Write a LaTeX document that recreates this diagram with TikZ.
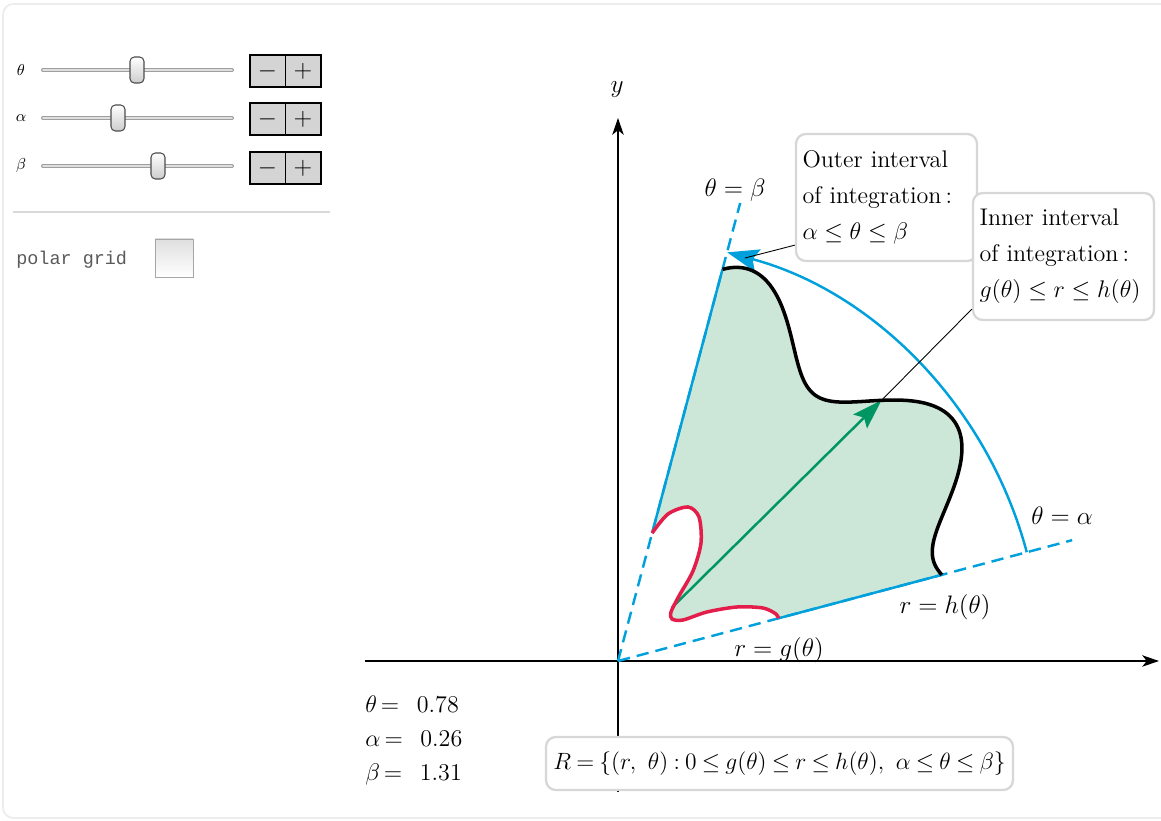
\RequirePackage{fix-cm}
\documentclass[tikz,border=0pt]{standalone}
\usepackage{amsmath}
\usepackage{fontspec}
\newfontfamily\panelmono{Liberation Mono}
\usepackage{tikz}
\usetikzlibrary{positioning}
\usetikzlibrary{arrows.meta}

\definecolor{raycol}{RGB}{0,160,220}
\definecolor{regiongreen}{RGB}{204,230,216}
\definecolor{radialcol}{RGB}{0,150,100}
\definecolor{gcol}{RGB}{228,30,75}
\definecolor{boxgray}{RGB}{215,215,215}
\definecolor{btngray}{RGB}{212,212,212}
\definecolor{framegray}{RGB}{236,236,236}

\newcommand\plotfont{\fontsize{13.7}{20.4}\selectfont}
\newcommand\mathlblfont{\fontsize{14.4}{17}\selectfont}
\newcommand\formulafont{\fontsize{13.4}{16}\selectfont\thickmuskip=4mu\relax}
% outer radius h(theta) in px, theta in degrees
\newcommand\hrad[1]{372+41*sin(10*#1+95)}

\begin{document}
\begin{tikzpicture}[x=0.02cm, y=0.02cm,
    coordaxis/.style={line width=0.7pt, -{Stealth[length=9.5pt, width=6.5pt, inset=2.5pt]}},
    ray/.style={raycol, line width=1.4pt},
    raydash/.style={ray, dash pattern=on 7pt off 4pt},
    sweep/.style={ray, -{Stealth[length=18pt, width=13pt, inset=3pt]}},
    radialarrow/.style={radialcol, line width=1.4pt, -{Stealth[length=17pt, width=11pt, inset=3pt]}},
    hcurve/.style={black, line width=2pt},
    gcurve/.style={gcol, line width=2pt},
    lbl/.style={font=\mathlblfont, inner sep=1pt},
    infobox/.style={draw=boxgray, line width=1.3pt, rounded corners=5.5pt, fill=white,
      align=left, text width=3.36cm, inner xsep=0.13cm, minimum height=2.54cm, font=\plotfont},
    formulabox/.style={draw=boxgray, line width=1.3pt, rounded corners=5.5pt, fill=white,
      minimum width=9.34cm, minimum height=1.06cm, font=\formulafont},
    leader/.style={line width=0.5pt},
    valtext/.style={font=\plotfont, inner sep=0pt},
    sliderlbl/.style={font=\fontsize{9}{9}\selectfont},
    track/.style={line width=2.3pt, gray!75, line cap=round},
    trackin/.style={line width=0.9pt, gray!25, line cap=round},
    thumb/.style={draw=gray!60!black, line width=0.6pt, rounded corners=2.5pt,
      top color=white, bottom color=gray!40, minimum width=0.28cm, minimum height=0.52cm, inner sep=0pt},
    pm/.style={fill=btngray, draw=black, line width=0.6pt, minimum width=0.71cm,
      minimum height=0.64cm, inner sep=0pt, outer sep=0pt, font=\fontsize{14}{14}\selectfont},
  ]

  \useasboundingbox (-618,-160) rectangle (543,661);
  \clip (-618,-160) rectangle (543,661);
  \draw[framegray, line width=1pt, rounded corners=6pt] (-615,-157) rectangle (580,657);

  % sliders
  \node[sliderlbl] (thetalbl) at (-597,591) {$\theta$};
  \draw[track] (-575,591) -- (-386,591);
  \draw[trackin] (-575,591) -- (-386,591);
  \node[thumb] (thetathumb) at (-481,591) {};
  \node[pm] (thetaminus) at (-350.5,590) {$-$};
  \node[pm, right=0pt of thetaminus] (thetaplus) {$+$};
  \draw[line width=1.2pt] (thetaminus.north west) rectangle (thetaplus.south east);

  \node[sliderlbl] (alphalbl) at (-597,543) {$\alpha$};
  \draw[track] (-575,543) -- (-386,543);
  \draw[trackin] (-575,543) -- (-386,543);
  \node[thumb] (alphathumb) at (-500,543) {};
  \node[pm] (alphaminus) at (-350.5,542) {$-$};
  \node[pm, right=0pt of alphaminus] (alphaplus) {$+$};
  \draw[line width=1.2pt] (alphaminus.north west) rectangle (alphaplus.south east);

  \node[sliderlbl] (betalbl) at (-597,495) {$\beta$};
  \draw[track] (-575,495) -- (-386,495);
  \draw[trackin] (-575,495) -- (-386,495);
  \node[thumb] (betathumb) at (-460,495) {};
  \node[pm] (betaminus) at (-350.5,493) {$-$};
  \node[pm, right=0pt of betaminus] (betaplus) {$+$};
  \draw[line width=1.2pt] (betaminus.north west) rectangle (betaplus.south east);

  \draw[gray!30, line width=0.6pt] (-605,449) -- (-288,449);
  \node[anchor=base west, inner sep=0pt, font=\panelmono\fontsize{10.5}{12}\selectfont, text=black!65] (gridlbl) at (-602,396) {polar grid};
  \node[draw=gray!70, top color=gray!25, bottom color=white, minimum size=0.76cm, inner sep=0pt] (gridbox) at (-444,403) {};

  % axes
  \coordinate (O) at (0,0);
  \coordinate (xstart) at (-253,0);
  \coordinate (xend) at (541,0);
  \coordinate (ystart) at (0,-131);
  \coordinate (yend) at (0,543);
  \draw[coordaxis] (xstart) -- (xend);
  \draw[coordaxis] (ystart) -- (yend);
  \node[lbl] (ylbl) at (-1,571) {$y$};

  \coordinate (galpha) at (14.9:166);
  \coordinate (halpha) at (14.9:{\hrad{14.9}});
  \coordinate (alphaend) at (14.9:470);
  \coordinate (gbeta) at (75.06:132.4);
  \coordinate (hbeta) at (75.06:{\hrad{75.06}});
  \coordinate (betaend) at (75.06:474);
  \coordinate (arcstart) at (14.9:423);
  \coordinate (gtheta) at (44.69:76);
  \coordinate (htheta) at (44.69:{\hrad{44.69}});

  % region
  \fill[regiongreen] plot[smooth] coordinates {(34.1,127.9) (50,147) (70,154) (81,144) (83,118) (75,90) (61,65) (53,49) (54,42) (65,41) (89,49) (119,54) (145,53) (158,47) (160.4,42.7)}
    -- plot[domain=14.9:75.06, samples=121] (\x:{\hrad{\x}}) -- cycle;

  \draw[raydash] (O) -- (alphaend);
  \draw[raydash] (O) -- (betaend);
  \draw[ray] (galpha) -- (halpha);
  \draw[ray] (gbeta) -- (hbeta);
  \draw[sweep] (arcstart) arc[start angle=14.9, end angle=75.06, radius=8.46cm];
  \draw[radialarrow] (gtheta) -- (htheta);

  \draw[gcurve] plot[smooth] coordinates {(34.1,127.9) (50,147) (70,154) (81,144) (83,118) (75,90) (61,65) (53,49) (54,42) (65,41) (89,49) (119,54) (145,53) (158,47) (160.4,42.7)};
  \draw[hcurve] plot[domain=14.9:75.06, samples=121] (\x:{\hrad{\x}});

  \node[lbl] (betaray) at (117,471) {$\theta = \beta$};
  \node[lbl] (alpharay) at (444,145) {$\theta = \alpha$};
  \node[lbl] (hlbl) at (327,54) {$r = h(\theta)$};
  \node[lbl] (glbl) at (161,11) {$r = g(\theta)$};

  % interval boxes
  \node[infobox] (outerbox) at (268.5,463.5) {Outer interval\\ of integration\,:\\ $\alpha \le \theta \le \beta$};
  \node[infobox] (innerbox) at (445.5,404.5) {Inner interval\\ of integration\,:\\ $g(\theta) \le r \le h(\theta)$};
  \coordinate (outerpin) at (127,403);
  \draw[leader] ([yshift=0.34cm]outerbox.south west) -- (outerpin);
  \draw[leader] ([yshift=0.24cm]innerbox.south west) -- (htheta);

  \node[formulabox] (regionbox) at (161.5,-102.5) {$R = \{(r,\ \theta) : 0 \le g(\theta) \le r \le h(\theta),\ \alpha \le \theta \le \beta\}$};

  \node[valtext, anchor=base west] (thetaval) at (-253,-52) {$\theta\,{=}$\hspace{10pt}0.78};
  \node[valtext, below=0.68cm of thetaval.base west, anchor=base west] (alphaval) {$\alpha\,{=}$\hspace{10pt}0.26};
  \node[valtext, below=0.68cm of alphaval.base west, anchor=base west] (betaval) {$\beta\,{=}$\hspace{10pt}1.31};
\end{tikzpicture}
\end{document}
